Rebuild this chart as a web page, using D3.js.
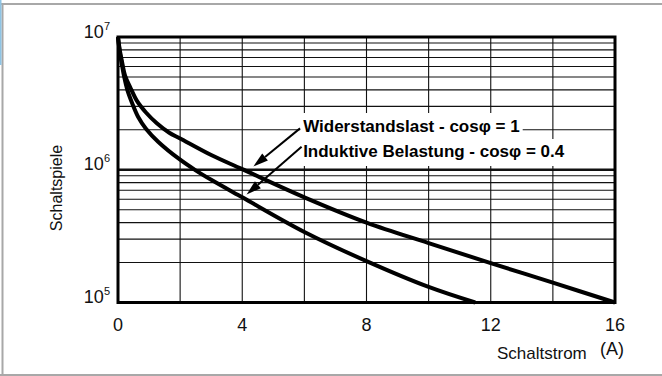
<!DOCTYPE html>
<html>
<head>
<meta charset="utf-8">
<script src="https://cdn.jsdelivr.net/npm/d3@7"></script>
<style>
  html, body { margin: 0; padding: 0; background: #fff; }
  svg { display: block; }
</style>
</head>
<body>
<svg id="chart" width="662" height="376"></svg>
<script>
// ---- data ----
const xTickValues = [0, 4, 8, 12, 16];
const xGridValues = [2, 4, 6, 8, 10, 12, 14];
const yTickValues = [1e5, 1e6, 1e7];
const yTickExponents = ["5", "6", "7"];

// Widerstandslast - cos phi = 1
const resistiveX = [0, 0.06, 0.13, 0.23, 0.39, 0.61, 0.9, 1.25, 1.65, 2, 3, 4, 6, 8, 10, 12, 14, 16];
const resistiveY = [1e7, 7.9e6, 6.5e6, 5.1e6, 4.2e6, 3.3e6, 2.7e6, 2.24e6, 1.9e6, 1.72e6, 1.29e6, 1.01e6, 6.2e5, 4.0e5, 2.8e5, 1.98e5, 1.41e5, 1.0e5];

// Induktive Belastung - cos phi = 0.4
const inductiveX = [0, 0.05, 0.12, 0.2, 0.3, 0.45, 0.65, 0.9, 1.3, 2, 2.5, 3, 4, 6, 8, 10, 11.5];
const inductiveY = [1e7, 7.9e6, 6.3e6, 5.0e6, 4.0e6, 3.2e6, 2.5e6, 2.04e6, 1.62e6, 1.19e6, 9.9e5, 8.4e5, 6.2e5, 3.4e5, 2.05e5, 1.31e5, 1.0e5];

const labelTexts = ["Widerstandslast - cos\u03C6 = 1", "Induktive Belastung - cos\u03C6 = 0.4"];
const arrowFromX = [5.86, 5.91];
const arrowFromY = [2.05e6, 1.49e6];
const arrowToX = [4.36, 4.14];
const arrowToY = [1.06e6, 6.5e5];

const xAxisTitle = "Schaltstrom";
const xAxisUnit = "(A)";
const yAxisTitle = "Schaltspiele";

// ---- layout ----
const svg = d3.select("#chart");
const x = d3.scaleLinear().domain([0, 16]).range([118, 615]);
const y = d3.scaleLog().domain([1e5, 1e7]).range([302.5, 37]);

// frame
svg.append("rect").attr("x", 0).attr("y", 0).attr("width", 662).attr("height", 376).attr("fill", "#fff");
svg.append("line").attr("x1", 0).attr("x2", 662).attr("y1", 4).attr("y2", 4).attr("stroke", "#a8a8a8").attr("stroke-width", 2);
svg.append("line").attr("x1", 2.5).attr("x2", 2.5).attr("y1", 4).attr("y2", 376).attr("stroke", "#a8a8a8").attr("stroke-width", 2);
svg.append("line").attr("x1", 0).attr("x2", 662).attr("y1", 375).attr("y2", 375).attr("stroke", "#a8a8a8").attr("stroke-width", 2);
svg.append("rect").attr("x", 0).attr("y", 0).attr("width", 1.5).attr("height", 65).attr("fill", "#8fc4e4");

const g = svg.append("g");

// horizontal grid (log minor)
const yGrid = y.ticks().filter(v => v > 1e5 && v < 1e7);
g.selectAll("line.hg").data(yGrid).enter().append("line")
  .attr("class", "hg")
  .attr("x1", x(0)).attr("x2", x(16))
  .attr("y1", d => y(d)).attr("y2", d => y(d))
  .attr("stroke", "#111")
  .attr("stroke-width", d => Math.abs(Math.log10(d) - 6) < 1e-9 ? 2.4 : 1.1);

// vertical grid
g.selectAll("line.vg").data(xGridValues).enter().append("line")
  .attr("class", "vg")
  .attr("x1", d => x(d)).attr("x2", d => x(d))
  .attr("y1", y(1e7)).attr("y2", y(1e5))
  .attr("stroke", "#111").attr("stroke-width", 1.1);

// label background boxes + labels
const labelG = svg.append("g");
const labelBaseX = x(5.96);
const labelBaseY = [y(1e7) + 95, y(1e7) + 120];
const texts = labelTexts.map((t, i) => labelG.append("text")
  .attr("x", labelBaseX).attr("y", labelBaseY[i])
  .attr("font-family", "'Liberation Sans', Arial, sans-serif")
  .attr("font-weight", "bold").attr("font-size", 17)
  .attr("fill", "#000").text(t));
const boxes = texts.map(t => t.node().getBBox());
labelG.insert("rect", "text")
  .attr("x", boxes[0].x - 3).attr("y", 113)
  .attr("width", boxes[0].width + 6).attr("height", 28).attr("fill", "#fff");
labelG.insert("rect", "text")
  .attr("x", boxes[1].x - 3).attr("y", 139)
  .attr("width", boxes[1].width + 6).attr("height", 27).attr("fill", "#fff");

// arrows
arrowFromX.forEach((fx, i) => {
  const x1 = x(fx), y1 = y(arrowFromY[i]);
  const x2 = x(arrowToX[i]), y2 = y(arrowToY[i]);
  const ang = Math.atan2(y2 - y1, x2 - x1);
  const hl = 15, hw = 4.5;
  const bx = x2 - hl * Math.cos(ang), by = y2 - hl * Math.sin(ang);
  svg.append("line").attr("x1", x1).attr("y1", y1).attr("x2", bx).attr("y2", by)
    .attr("stroke", "#000").attr("stroke-width", 2);
  svg.append("path")
    .attr("d", `M${x2},${y2}L${bx + hw * Math.sin(ang)},${by - hw * Math.cos(ang)}L${bx - hw * Math.sin(ang)},${by + hw * Math.cos(ang)}Z`)
    .attr("fill", "#000");
});

// curves
const line = d3.line().x(d => x(d[0])).y(d => y(d[1])).curve(d3.curveCatmullRom.alpha(0.5));
const curves = [d3.zip(resistiveX, resistiveY), d3.zip(inductiveX, inductiveY)];
svg.selectAll("path.curve").data(curves).enter().append("path")
  .attr("class", "curve")
  .attr("d", line)
  .attr("fill", "none").attr("stroke", "#000").attr("stroke-width", 4)
  .attr("stroke-linejoin", "round");

// plot border
svg.append("rect")
  .attr("x", x(0)).attr("y", y(1e7))
  .attr("width", x(16) - x(0)).attr("height", y(1e5) - y(1e7))
  .attr("fill", "none").attr("stroke", "#000").attr("stroke-width", 3);

// x tick labels
svg.selectAll("text.xt").data(xTickValues).enter().append("text")
  .attr("class", "xt")
  .attr("x", d => x(d)).attr("y", 330.5)
  .attr("text-anchor", "middle")
  .attr("font-family", "'Liberation Sans', Arial, sans-serif")
  .attr("font-size", 18).attr("fill", "#111")
  .text(d => d);

// y tick labels
yTickValues.forEach((v, i) => {
  const t = svg.append("text")
    .attr("x", 110).attr("y", y(v) + 0.5)
    .attr("text-anchor", "end")
    .attr("font-family", "'Liberation Sans', Arial, sans-serif")
    .attr("font-size", 18).attr("fill", "#111");
  t.append("tspan").text("10");
  t.append("tspan").attr("dy", -8).attr("font-size", 11).text(yTickExponents[i]);
});

// axis titles
svg.append("text")
  .attr("x", 497).attr("y", 358.5)
  .attr("font-family", "'Liberation Sans', Arial, sans-serif")
  .attr("font-size", 17).attr("fill", "#111")
  .text(xAxisTitle);
svg.append("text")
  .attr("x", 612).attr("y", 355)
  .attr("text-anchor", "middle")
  .attr("font-family", "'Liberation Sans', Arial, sans-serif")
  .attr("font-size", 18).attr("fill", "#111")
  .text(xAxisUnit);
svg.append("text")
  .attr("transform", "translate(62,188) rotate(-90)")
  .attr("text-anchor", "middle")
  .attr("font-family", "'Liberation Sans', Arial, sans-serif")
  .attr("font-size", 16).attr("fill", "#111")
  .text(yAxisTitle);
</script>
</body>
</html>
